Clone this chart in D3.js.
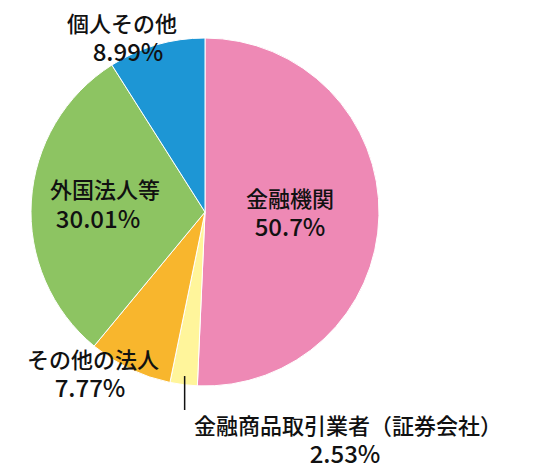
<!DOCTYPE html>
<html><head><meta charset="utf-8">
<script src="https://cdn.jsdelivr.net/npm/d3@7"></script>
<style>body{margin:0;background:#fff}text{font-family:"Noto Sans CJK JP","Noto Sans",sans-serif;fill:#111;font-weight:500}</style>
</head><body><svg id="c" width="560" height="474"></svg>
<script>
const categories=["金融機関","金融商品取引業者（証券会社）","その他の法人","外国法人等","個人その他"];
const values=[50.7,2.53,7.77,30.01,8.99];
const valueLabels=["50.7%","2.53%","7.77%","30.01%","8.99%"];
const colors=["#EE89B5","#FFF59B","#F8B62D","#8DC462","#1D96D5"];
const svg=d3.select("#c"),cx=205,cy=212,r=174;
const g=svg.append("g").attr("transform",`translate(${cx},${cy})`);
const arcs=d3.pie().sort(null)(values);
const arc=d3.arc().innerRadius(0).outerRadius(r);
g.selectAll("path").data(arcs).enter().append("path").attr("d",arc)
 .attr("fill",(d,i)=>colors[i]).attr("stroke","#fff").attr("stroke-width",1);
const pos=[[[290,207],[290,236]],[[348,434],[345,463]],[[93,368],[90,397]],[[105,198],[98,228]],[[122,32],[128,61]]];
categories.forEach((c,i)=>{
 svg.append("text").attr("x",pos[i][0][0]).attr("y",pos[i][0][1]).attr("text-anchor","middle").attr("font-size",22).text(c);
 svg.append("text").attr("x",pos[i][1][0]).attr("y",pos[i][1][1]).attr("text-anchor","middle").attr("font-size",24).text(valueLabels[i]);
});
const a=arcs[1],m=(a.startAngle+a.endAngle)/2;
const px=cx+Math.sin(m)*r*0.95,py=cy-Math.cos(m)*r*0.95;
svg.append("line").attr("x1",px).attr("y1",py).attr("x2",px).attr("y2",410).attr("stroke","#111").attr("stroke-width",1.5);
</script></body></html>
